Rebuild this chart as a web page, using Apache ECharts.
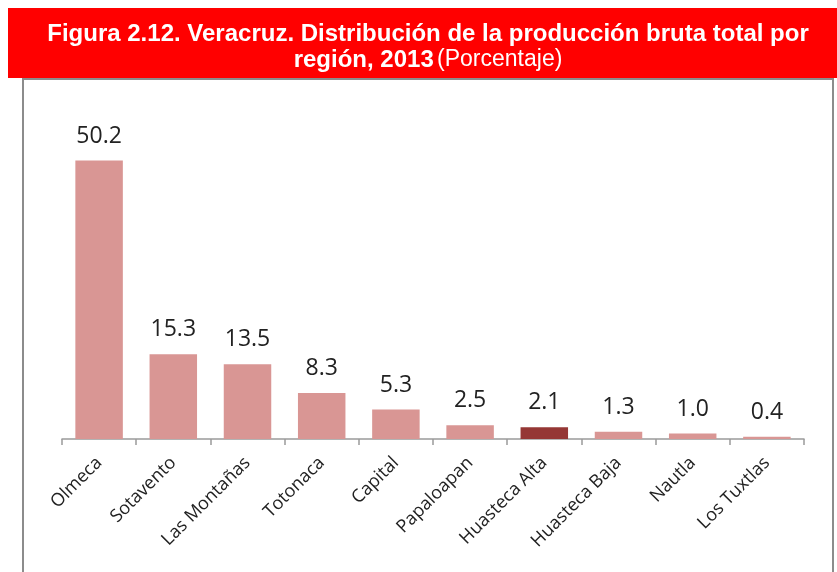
<!DOCTYPE html>
<html lang="es">
<head>
<meta charset="utf-8" />
<title>Veracruz producción bruta por región</title>
<script src="https://cdn.jsdelivr.net/npm/echarts@6/dist/echarts.min.js"></script>
<style>
  html, body { margin: 0; padding: 0; background: #fff; }
  #main { width: 837px; height: 572px; }
</style>
</head>
<body>
<div id="main"></div>
<script>
// datos
var regiones = ['Olmeca', 'Sotavento', 'Las Montañas', 'Totonaca', 'Capital',
                'Papaloapan', 'Huasteca Alta', 'Huasteca Baja', 'Nautla', 'Los Tuxtlas'];
var porcentaje = [50.2, 15.3, 13.5, 8.3, 5.3, 2.5, 2.1, 1.3, 1.0, 0.4];
var destacada = 'Huasteca Alta';

var chart = echarts.init(document.getElementById('main'));

var option = {
  animation: false,
  graphic: [
    { type: 'rect', shape: { x: 8, y: 8, width: 829, height: 70 }, style: { fill: '#ff0000' }, z: 0 },
    { type: 'rect', shape: { x: 23, y: 79, width: 810, height: 500 },
      style: { fill: '#fff', stroke: '#8c8c8c', lineWidth: 2 }, z: 0 },
    {
      type: 'text', x: 428, y: 21, z: 10,
      style: {
        text: '{b|Figura 2.12. Veracruz. Distribución de la producción bruta total por}\n{b|región, 2013} {n|(Porcentaje)}',
        align: 'center',
        fill: '#fff',
        rich: {
          b: { fontFamily: 'Liberation Sans', fontWeight: 'bold', fontSize: 24, fill: '#fff', lineHeight: 26 },
          n: { fontFamily: 'Liberation Sans', fontSize: 23, fill: '#fff', lineHeight: 26 }
        }
      }
    }
  ],
  grid: { left: 62, right: 33, top: 134, bottom: 133 },
  xAxis: {
    type: 'category',
    data: regiones,
    axisLine: { lineStyle: { color: '#9a9a9a', width: 1.5 } },
    axisTick: { show: true, length: 6, lineStyle: { color: '#9a9a9a', width: 1.5 } },
    axisLabel: {
      rotate: 45, interval: 0, margin: 21,
      fontFamily: 'Open Sans', fontSize: 18, color: '#222'
    }
  },
  yAxis: {
    type: 'value', min: 0, max: 55,
    show: false, splitLine: { show: false }
  },
  series: [{
    type: 'bar',
    data: porcentaje,
    barCategoryGap: '36%',
    itemStyle: {
      color: function (p) { return p.name === destacada ? '#953735' : '#d99694'; }
    },
    label: {
      show: true, position: 'top', distance: 13,
      fontFamily: 'Open Sans', fontSize: 23, color: '#222',
      formatter: function (p) { return p.value.toFixed(1); }
    }
  }]
};

chart.setOption(option);
</script>
</body>
</html>
